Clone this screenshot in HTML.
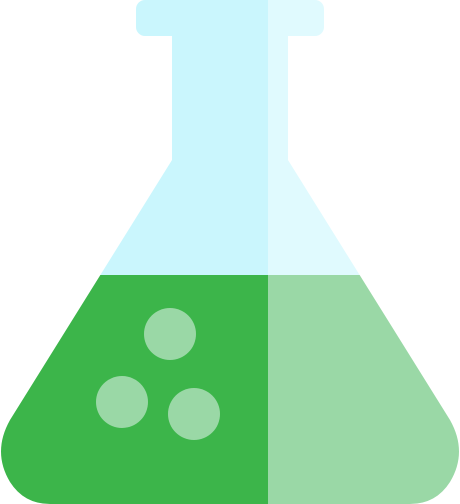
<!DOCTYPE html>
<html>
<head>
<meta charset="utf-8">
<style>
html,body{margin:0;padding:0;background:#fff;}
svg{display:block;}
</style>
</head>
<body>
<svg width="460" height="504" viewBox="0 0 460 504">
  <defs>
    <clipPath id="leftHalf"><rect x="0" y="0" width="268" height="504"/></clipPath>
    <clipPath id="rightHalf"><rect x="268" y="0" width="192" height="504"/></clipPath>
    <clipPath id="flaskShape">
      <path d="M172,30 L288,30 L288,160 L450,420 Q468,452 450,482 Q436,504 410,504 L50,504 Q24,504 10,482 Q-8,452 10,420 L172,160 Z"/>
    </clipPath>
  </defs>
  <g>
    <rect x="136" y="0" width="188" height="36" rx="9" fill="#CAF6FD" clip-path="url(#leftHalf)"/>
    <rect x="136" y="0" width="188" height="36" rx="9" fill="#E0FAFE" clip-path="url(#rightHalf)"/>
  </g>
  <g clip-path="url(#flaskShape)">
    <rect x="0" y="30" width="268" height="246" fill="#CAF6FD"/>
    <rect x="268" y="30" width="192" height="246" fill="#E0FAFE"/>
    <rect x="0" y="275" width="268" height="229" fill="#3CB54A"/>
    <rect x="268" y="275" width="192" height="229" fill="#9AD8A6"/>
  </g>
  <circle cx="170" cy="334" r="26" fill="#9AD8A6"/>
  <circle cx="122" cy="402" r="26" fill="#9AD8A6"/>
  <circle cx="194" cy="414" r="26" fill="#9AD8A6"/>
</svg>
</body>
</html>
